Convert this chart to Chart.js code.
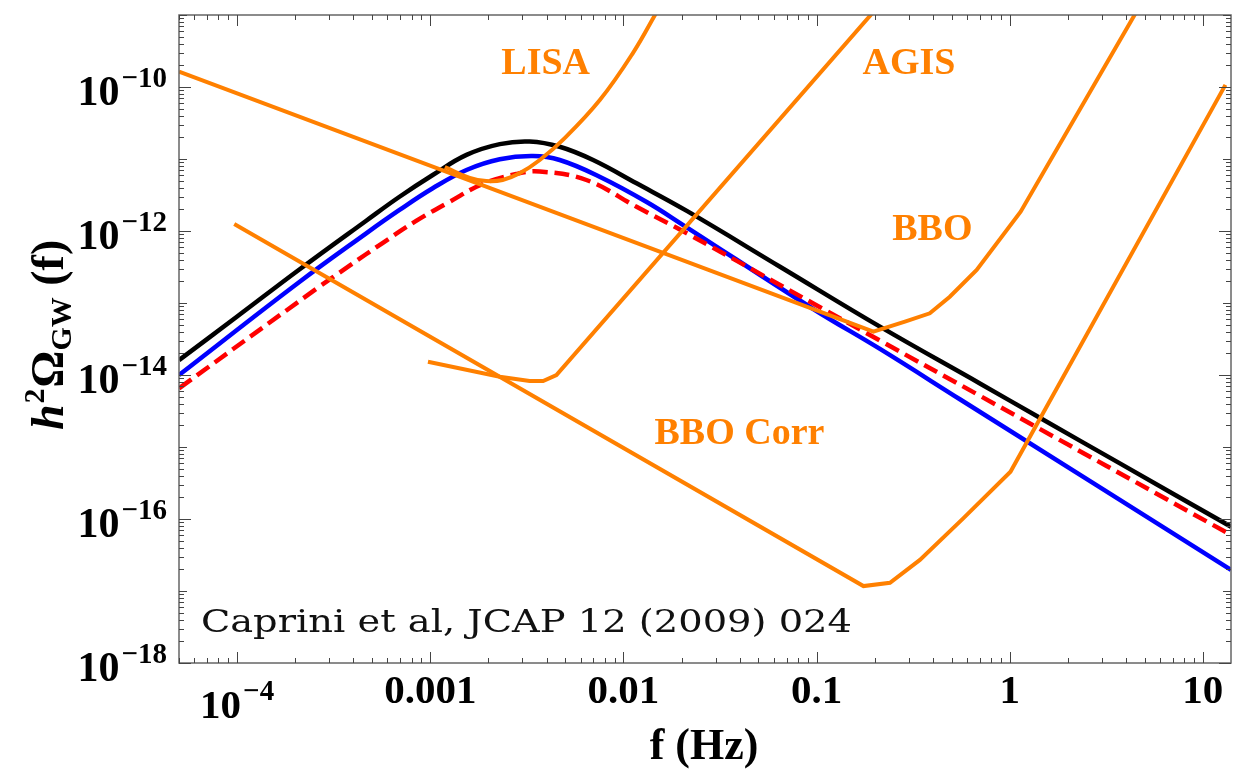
<!DOCTYPE html>
<html lang="en">
<head>
<meta charset="UTF-8">
<title>GW spectrum vs detector sensitivities</title>
<script src="https://cdn.jsdelivr.net/npm/chart.js"></script>
<style>
  html, body { margin: 0; padding: 0; background: #fff; }
  canvas { display: block; }
</style>
</head>
<body>
<canvas id="gwChart" width="1252" height="771"></canvas>
<script>
// axis ranges
var freqMin = 5e-5, freqMax = 14;
var omegaMin = 1e-18, omegaMax = 1e-9;

// signal spectra h^2 Omega_GW(f)
var blackF = [5e-5, 1e-4, 2.10e-4, 4.66e-4, 6.93e-4, 1.03e-3, 1.54e-3, 2.29e-3, 3.27e-3, 4.68e-3, 6.97e-3, 1.17e-2, 2.13e-2, 6.47e-2, 0.213, 0.705, 1.44, 3.74, 14];
var blackOmega = [1.61e-14, 6.49e-14, 2.92e-13, 1.39e-12, 2.99e-12, 6.0e-12, 1.14e-11, 1.61e-11, 1.75e-11, 1.48e-11, 9.68e-12, 4.59e-12, 1.90e-12, 3.19e-13, 4.69e-14, 7.57e-15, 2.53e-15, 5.87e-16, 7.82e-17];

var blueF = [5e-5, 2.10e-4, 4.66e-4, 6.93e-4, 1.03e-3, 1.54e-3, 2.29e-3, 3.40e-3, 4.68e-3, 7.53e-3, 1.32e-2, 2.04e-2, 9.62e-2, 0.213, 0.555, 14];
var blueOmega = [1.0e-14, 1.96e-13, 9.29e-13, 1.96e-12, 3.92e-12, 7.03e-12, 9.91e-12, 1.10e-11, 9.68e-12, 5.68e-12, 2.53e-12, 1.21e-12, 8.26e-14, 2.30e-14, 4.57e-15, 1.96e-17];

var redF = [5e-5, 2.56e-4, 3.82e-4, 5.66e-4, 8.45e-4, 1.26e-3, 1.87e-3, 2.79e-3, 3.69e-3, 6.43e-3, 1.17e-2, 2.13e-2, 9.62e-2, 0.213, 0.705, 14];
var redOmega = [6.53e-15, 1.56e-13, 3.30e-13, 6.81e-13, 1.38e-12, 2.55e-12, 4.50e-12, 6.19e-12, 6.70e-12, 5.11e-12, 2.17e-12, 9.29e-13, 9.84e-14, 3.01e-14, 5.11e-15, 6.0e-17];

// detector sensitivity curves
var lisaF = [1.19e-3, 1.60e-3, 1.95e-3, 2.37e-3, 2.90e-3, 3.69e-3, 4.86e-3, 7.55e-3, 1.12e-2, 1.49e-2];
var lisaOmega = [7.74e-12, 5.45e-12, 4.94e-12, 5.11e-12, 6.32e-12, 9.68e-12, 1.84e-11, 6.59e-11, 2.96e-10, 1.11e-9];

var agisF = [9.73e-4, 2.29e-3, 3.27e-3, 3.84e-3, 4.50e-3, 0.195];
var agisOmega = [1.53e-14, 9.46e-15, 8.26e-15, 8.26e-15, 1.0e-14, 1.07e-9];

var bboF = [5e-5, 0.197, 0.287, 0.386, 0.490, 0.675, 1.14, 4.49];
var bboOmega = [1.63e-10, 3.99e-14, 5.50e-14, 7.19e-14, 1.22e-13, 2.87e-13, 1.85e-12, 1.06e-9];

var bboCorrF = [9.66e-5, 0.175, 0.240, 0.343, 0.575, 1.01, 13.1];
var bboCorrOmega = [1.25e-12, 1.17e-17, 1.30e-17, 2.70e-17, 1.02e-16, 4.54e-16, 1.07e-10];

// tick labels
var xTickValues = [1e-4, 1e-3, 0.01, 0.1, 1, 10];
var xTickLabels = ['10^\u22124', '0.001', '0.01', '0.1', '1', '10'];
var yTickValues = [1e-10, 1e-12, 1e-14, 1e-16, 1e-18];
var yTickLabels = ['10^\u221210', '10^\u221212', '10^\u221214', '10^\u221216', '10^\u221218'];

// curve names placed at (f, omega)
var noteTexts = ['LISA', 'AGIS', 'BBO', 'BBO Corr'];
var noteF = [3.96e-3, 0.301, 0.398, 0.0399];
var noteOmega = [1.52e-10, 1.52e-10, 7.5e-13, 1.10e-15];

var citation = 'Caprini et al, JCAP 12 (2009) 024';
var citationF = 6.49e-5, citationOmega = 2.72e-18;

var ORANGE = '#ff8000';
var SERIF = '"Liberation Serif", "Times New Roman", serif';

function pairs(fs, vals) {
    return fs.map(function (f, i) { return { x: f, y: vals[i] }; });
}

function curve(fs, vals, color, extra) {
    var ds = {
        data: pairs(fs, vals),
        borderColor: color,
        borderWidth: 4.5,
        pointRadius: 0,
        fill: false,
        tension: 0
    };
    return Object.assign(ds, extra || {});
}

// draws "10^-n" style labels, returns width
function drawPow(ctx, text, x, y, align, bigSize, drop) {
    var parts = text.split('^');
    var big = 'bold ' + bigSize + 'px ' + SERIF;
    var small = 'bold ' + Math.round(bigSize * 0.7) + 'px ' + SERIF;
    ctx.font = big;
    var w1 = ctx.measureText(parts[0]).width;
    var w2 = 0;
    if (parts[1]) { ctx.font = small; w2 = ctx.measureText(parts[1]).width + 2; }
    var w = w1 + w2;
    var x0 = align === 'right' ? x - w : (align === 'center' ? x - w / 2 : x);
    ctx.textAlign = 'left';
    ctx.font = big;
    ctx.fillText(parts[0], x0, y + (parts[1] ? drop : 0));
    if (parts[1]) {
        ctx.font = small;
        ctx.fillText(parts[1], x0 + w1 + 2, y + drop - 18);
    }
    return w;
}

var framePlugin = {
    id: 'frame',
    afterDatasetsDraw: function (chart) {
        var ctx = chart.ctx, a = chart.chartArea;
        var xs = chart.scales.x, ys = chart.scales.y;
        ctx.save();

        // box
        ctx.strokeStyle = '#666';
        ctx.lineWidth = 1.5;
        ctx.strokeRect(a.left, a.top, a.right - a.left, a.bottom - a.top);

        // ticks pointing inwards on all four sides
        ctx.strokeStyle = '#444';
        ctx.lineWidth = 1;
        ctx.beginPath();
        for (var e = -5; e <= 1; e++) {
            for (var k = 1; k <= 9; k++) {
                var v = k * Math.pow(10, e);
                if (v < freqMin || v > freqMax) continue;
                var px = Math.round(xs.getPixelForValue(v)) + 0.5;
                var len = k === 1 ? 11 : 5;
                ctx.moveTo(px, a.bottom); ctx.lineTo(px, a.bottom - len);
                ctx.moveTo(px, a.top); ctx.lineTo(px, a.top + len);
            }
        }
        for (var e2 = -18; e2 <= -9; e2++) {
            for (var k2 = 1; k2 <= 9; k2++) {
                var v2 = k2 * Math.pow(10, e2);
                if (v2 < omegaMin * 0.999 || v2 > omegaMax * 1.001) continue;
                var py = Math.round(ys.getPixelForValue(v2)) + 0.5;
                var len2 = k2 === 1 ? (e2 % 2 === 0 ? 12 : 8) : 5;
                ctx.moveTo(a.left, py); ctx.lineTo(a.left + len2, py);
                ctx.moveTo(a.right, py); ctx.lineTo(a.right - len2, py);
            }
        }
        ctx.stroke();

        // tick labels
        ctx.fillStyle = '#000';
        ctx.textBaseline = 'alphabetic';
        xTickValues.forEach(function (v, i) {
            var px = xs.getPixelForValue(v);
            drawPow(ctx, xTickLabels[i], px, a.bottom + 40, 'center', 41, 15);
        });
        yTickValues.forEach(function (v, i) {
            var py = ys.getPixelForValue(v);
            drawPow(ctx, yTickLabels[i], a.left - 12, py + 18, 'right', 42, 0);
        });

        // axis titles
        ctx.font = 'bold 44px ' + SERIF;
        ctx.textAlign = 'center';
        ctx.fillText('f (Hz)', (a.left + a.right) / 2 - 1, 759);

        ctx.save();
        ctx.translate(63, 430);
        ctx.rotate(-Math.PI / 2);
        ctx.textAlign = 'left';
        var cx = 0;
        ctx.font = 'italic bold 46px ' + SERIF;
        ctx.fillText('h', cx, 0); cx += ctx.measureText('h').width + 1;
        ctx.font = 'bold 30px ' + SERIF;
        ctx.fillText('2', cx, -19); cx += ctx.measureText('2').width + 1;
        ctx.font = 'bold 46px ' + SERIF;
        ctx.fillText('\u03A9', cx, 0); cx += ctx.measureText('\u03A9').width;
        ctx.font = 'bold 30px ' + SERIF;
        ctx.fillText('GW', cx, 8); cx += ctx.measureText('GW').width;
        ctx.font = 'bold 46px ' + SERIF;
        ctx.fillText(' (f)', cx, 0);
        ctx.restore();

        // curve names
        ctx.fillStyle = ORANGE;
        ctx.font = 'bold 38px ' + SERIF;
        ctx.textAlign = 'center';
        noteTexts.forEach(function (t, i) {
            ctx.fillText(t, xs.getPixelForValue(noteF[i]), ys.getPixelForValue(noteOmega[i]));
        });

        // reference line, stretched to its printed width
        ctx.fillStyle = '#111';
        ctx.font = '31px "DejaVu Serif", serif';
        ctx.textAlign = 'left';
        var cw = ctx.measureText(citation).width;
        var tx = xs.getPixelForValue(citationF), ty = ys.getPixelForValue(citationOmega);
        ctx.save();
        ctx.translate(tx, ty);
        ctx.scale(651 / cw, 1);
        ctx.fillText(citation, 0, 0);
        ctx.restore();

        ctx.restore();
    }
};

var ctx = document.getElementById('gwChart').getContext('2d');
var gwChart = new Chart(ctx, {
    type: 'line',
    data: {
        datasets: [
            curve(lisaF, lisaOmega, ORANGE, { borderWidth: 4, tension: 0.4, order: 0 }),
            curve(agisF, agisOmega, ORANGE, { borderWidth: 4, order: 0 }),
            curve(bboF, bboOmega, ORANGE, { borderWidth: 4, order: 0 }),
            curve(bboCorrF, bboCorrOmega, ORANGE, { borderWidth: 4, order: 0 }),
            curve(redF, redOmega, '#ff0000', { borderDash: [15, 7], tension: 0.4, order: 1 }),
            curve(blueF, blueOmega, '#0000ff', { tension: 0.4, order: 2 }),
            curve(blackF, blackOmega, '#000000', { tension: 0.4, order: 3 })
        ]
    },
    options: {
        responsive: false,
        animation: false,
        layout: { padding: { left: 179, right: 21, top: 15, bottom: 108 } },
        plugins: { legend: { display: false }, tooltip: { enabled: false } },
        scales: {
            x: { type: 'logarithmic', min: freqMin, max: freqMax, display: false },
            y: { type: 'logarithmic', min: omegaMin, max: omegaMax, display: false }
        }
    },
    plugins: [framePlugin]
});
</script>
</body>
</html>
